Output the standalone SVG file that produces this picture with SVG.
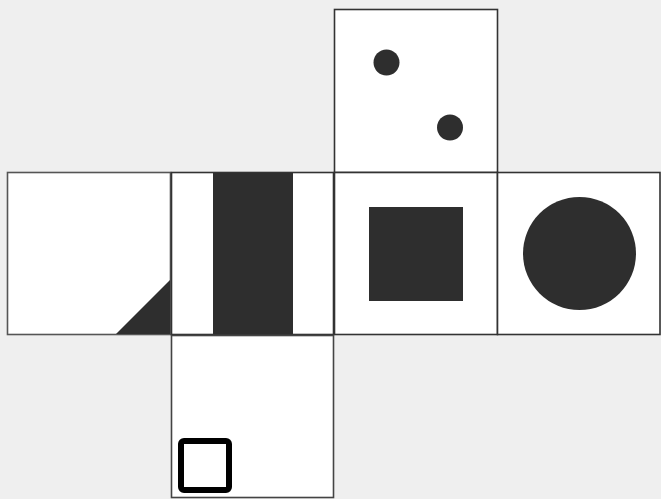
<svg xmlns="http://www.w3.org/2000/svg" width="661" height="499" viewBox="0 0 661 499">
<style>
.face{fill:#fff;stroke:#333;stroke-width:1.6}
.ink{fill:#2e2e2e}
</style>
<rect width="661" height="499" fill="#efefef"/>
<g id="face-top">
<rect class="face" x="334.5" y="9.5" width="163" height="163"/>
<circle class="ink" cx="386.5" cy="62.5" r="13"/>
<circle class="ink" cx="450" cy="127.5" r="13"/>
</g>
<g id="face-left">
<rect class="face" x="7.5" y="172.5" width="163" height="162" style="stroke:#555"/>
<polygon class="ink" points="116,334 170,280 170,334"/>
</g>
<g id="face-bar">
<rect class="face" x="171.5" y="172.5" width="162" height="162"/>
<rect class="ink" x="213" y="173" width="80" height="161"/>
</g>
<g id="face-square">
<rect class="face" x="334.5" y="172.5" width="163" height="162"/>
<rect class="ink" x="369" y="207" width="94" height="94"/>
</g>
<g id="face-circle">
<rect class="face" x="497.5" y="172.5" width="162.5" height="162"/>
<circle class="ink" cx="579.5" cy="253.5" r="56.5"/>
</g>
<g id="face-bottom">
<rect class="face" x="171.5" y="335.5" width="162" height="162" style="stroke:#444"/>
<rect x="181" y="441" width="48" height="49" rx="3" fill="none" stroke="#000" stroke-width="6"/>
</g>
</svg>
